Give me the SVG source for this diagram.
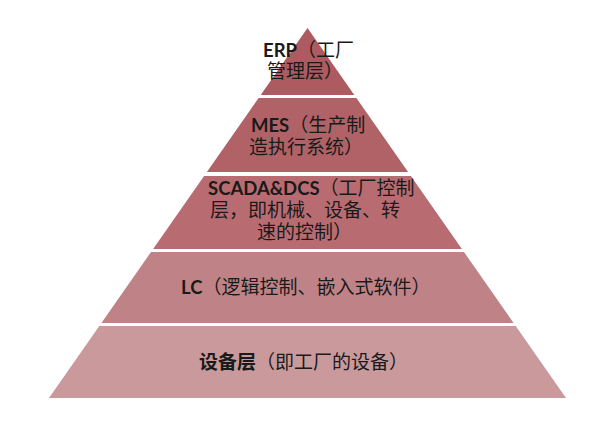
<svg xmlns="http://www.w3.org/2000/svg" width="605" height="426" viewBox="0 0 605 426">
<style>
.t{font-family:"Noto Sans CJK SC","Noto Sans",sans-serif;font-size:19px;fill:#1a1a1a}
.b{font-family:Lato,"Noto Sans CJK SC",sans-serif;font-weight:bold;font-size:18.5px}
.bc{font-family:"Noto Sans CJK SC",sans-serif;font-weight:bold}
</style>
<rect width="605" height="426" fill="#ffffff"/>
<g id="layer-erp">
<polygon points="307.5,28 354.3,95 260.7,95" fill="#ad5b60"/>
<text class="t" x="263" y="57"><tspan class="b">ERP</tspan>（工厂</text>
<text class="t" x="267" y="78">管理层）</text>
</g>
<g id="layer-mes">
<polygon points="258.6,98 356.4,98 408.1,172 206.9,172" fill="#b06267"/>
<text class="t" x="251" y="132"><tspan class="b">MES</tspan>（生产制</text>
<text class="t" x="249" y="154">造执行系统）</text>
</g>
<g id="layer-scada">
<polygon points="204.1,176 410.9,176 461.9,249 153.1,249" fill="#b86c71"/>
<text class="t" x="208" y="195"><tspan class="b">SCADA&amp;DCS</tspan>（工厂控制</text>
<text class="t" x="210" y="217">层，即机械、设备、转</text>
<text class="t" x="257" y="239">速的控制）</text>
</g>
<g id="layer-lc">
<polygon points="151,252 464,252 513.6,323 101.4,323" fill="#bf8387"/>
<text class="t" x="181" y="294"><tspan class="b">LC</tspan>（逻辑控制、嵌入式软件）</text>
</g>
<g id="layer-device">
<polygon points="99.3,326 515.7,326 566,398 49,398" fill="#c9999c"/>
<text class="t" x="199" y="369"><tspan class="bc">设备层</tspan>（即工厂的设备）</text>
</g>
<g id="connectors"/>
</svg>
